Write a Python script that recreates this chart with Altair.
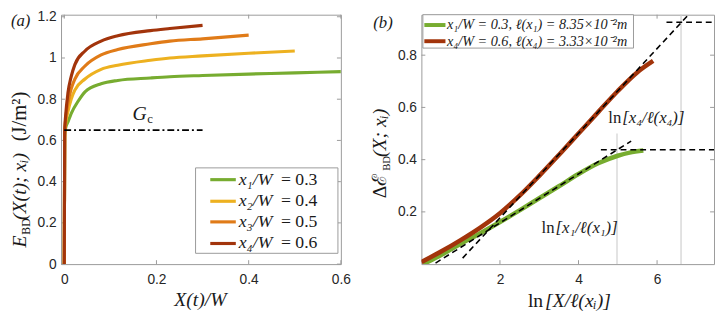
import altair as alt
import pandas as pd

SERIF = "Liberation Serif"
SANS = "Liberation Sans"
INK = "#1a1a1a"
FRAME = "#9a9a9a"

# ---------------- panel (a) data ----------------
a_colors = ["#77AC30", "#EDB120", "#E07B18", "#A2340B"]
a_names = ["x\u2081/W", "x\u2082/W", "x\u2083/W", "x\u2084/W"]
a_vals = ["= 0.3", "= 0.4", "= 0.5", "= 0.6"]

a1_x = [0, 0.001, 0.003, 0.008, 0.016, 0.03, 0.045, 0.08, 0.116, 0.187, 0.229, 0.3, 0.4, 0.5, 0.6]
a1_y = [0, 0.62, 0.66, 0.69, 0.735, 0.79, 0.836, 0.875, 0.891, 0.903, 0.909, 0.915, 0.922, 0.928, 0.934]
a2_x = [0, 0.001, 0.003, 0.008, 0.015, 0.023, 0.045, 0.08, 0.116, 0.187, 0.229, 0.3, 0.4, 0.5]
a2_y = [0, 0.63, 0.68, 0.74, 0.80, 0.844, 0.898, 0.945, 0.965, 0.989, 1.0, 1.01, 1.023, 1.034]
a3_x = [0, 0.001, 0.003, 0.008, 0.015, 0.023, 0.045, 0.08, 0.116, 0.187, 0.229, 0.3, 0.4]
a3_y = [0, 0.64, 0.70, 0.78, 0.85, 0.898, 0.961, 1.015, 1.041, 1.069, 1.082, 1.093, 1.111]
a4_x = [0, 0.001, 0.003, 0.008, 0.015, 0.023, 0.045, 0.08, 0.116, 0.187, 0.229, 0.3]
a4_y = [0, 0.65, 0.72, 0.83, 0.91, 0.968, 1.034, 1.082, 1.108, 1.133, 1.143, 1.158]

gc_x = [0, 0.3]
gc_y = [0.65, 0.65]
gc_label_pos = [0.148, 0.697]

a_xticks = [0, 0.2, 0.4, 0.6]
a_yticks = [0, 0.2, 0.4, 0.6, 0.8, 1.0, 1.2]

# ---------------- panel (b) data ----------------
b_colors = ["#77AC30", "#A2340B"]
b_labels = ["x\u2081/W = 0.3, \u2113(x\u2081) = 8.35\u00d710\u207b\u00b2m",
            "x\u2084/W = 0.6, \u2113(x\u2084) = 3.33\u00d710\u207b\u00b2m"]

b1_x = [0.05, 0.5, 1.0, 1.5, 2.0, 2.5, 3.0, 3.5, 4.0, 4.5, 5.0, 5.3, 5.65]
b1_y = [0.0, 0.035, 0.078, 0.118, 0.161, 0.206, 0.252, 0.298, 0.345, 0.386, 0.415, 0.427, 0.435]
b4_x = [0.0, 0.5, 1.0, 1.5, 2.0, 2.5, 3.0, 3.5, 4.0, 4.5, 5.0, 5.5, 5.9]
b4_y = [0.008, 0.048, 0.092, 0.140, 0.195, 0.262, 0.338, 0.418, 0.50, 0.582, 0.663, 0.735, 0.778]

dash_x1 = [1.05, 6.24, 0.36, 4.57]
dash_y1 = [0.023, 0.926, 0.004, 0.438]
dash_x2 = [6.77, 7.45, 5.34, 7.45]
dash_y2 = [0.95, 0.926, 0.471, 0.438]

vline_x = [4.98, 6.61]
vline_top = [0.5, 0.955]

ann4_pos = [5.09, 0.54]
ann1_pos = [3.39, 0.121]

b_xticks = [2, 4, 6]
b_yticks = [0.2, 0.4, 0.6, 0.8]

# ---------------- sizes ----------------
W1, H = 285, 254
W2 = 298

one = pd.DataFrame({"a": [0]})


def ptext(s, x, y, size, style="normal", angle=0, align="left", baseline="alphabetic", font=SERIF):
    return alt.Chart(one).mark_text(
        text=s, font=font, fontSize=size, fontStyle=style, angle=angle,
        align=align, baseline=baseline, color=INK
    ).encode(x=alt.value(x), y=alt.value(y))


def dtext(s, pos, size, X, Y, style="normal", align="left", dx=0, dy=0):
    df = pd.DataFrame({"x": [pos[0]], "y": [pos[1]], "t": [s]})
    return alt.Chart(df).mark_text(
        font=SERIF, fontSize=size, fontStyle=style, align=align,
        baseline="alphabetic", color=INK, dx=dx, dy=dy
    ).encode(x=X, y=Y, text="t:N")


def curve(xs, ys, color, width, X, Y):
    df = pd.DataFrame({"x": xs, "y": ys})
    return alt.Chart(df).mark_line(color=color, strokeWidth=width, clip=True,
                                   interpolate="monotone").encode(x=X, y=Y)


def ticks(xv, yv, X, Y, w, h):
    dx = pd.DataFrame({"x": xv})
    dy = pd.DataFrame({"y": yv})
    m = dict(color=FRAME, strokeWidth=1)
    return [
        alt.Chart(dx).mark_rule(**m).encode(x=X, y=alt.value(h), y2=alt.value(h - 4)),
        alt.Chart(dx).mark_rule(**m).encode(x=X, y=alt.value(0), y2=alt.value(4)),
        alt.Chart(dy).mark_rule(**m).encode(y=Y, x=alt.value(0), x2=alt.value(4)),
        alt.Chart(dy).mark_rule(**m).encode(y=Y, x=alt.value(w - 4), x2=alt.value(w)),
    ]


def top_guard():
    return alt.Chart(one).mark_rule(opacity=0).encode(x=alt.value(0), y=alt.value(-6), y2=alt.value(0))


# ---------------- panel (a) ----------------
Xa = alt.X("x:Q", scale=alt.Scale(domain=[-0.007, 0.6], nice=False, zero=False),
           axis=alt.Axis(values=a_xticks, format="~g", title=None))
Ya = alt.Y("y:Q", scale=alt.Scale(domain=[0, 1.21], nice=False),
           axis=alt.Axis(values=a_yticks, format="~g", title=None))

a_layers = ticks(a_xticks, a_yticks, Xa, Ya, W1, H)
for xs, ys, c in zip([a1_x, a2_x, a3_x, a4_x], [a1_y, a2_y, a3_y, a4_y], a_colors):
    a_layers.append(curve(xs, ys, c, 3.2, Xa, Ya))

a_layers.append(
    alt.Chart(pd.DataFrame({"x": gc_x, "y": gc_y})).mark_line(
        color="black", strokeWidth=2, strokeDash=[7, 3, 2, 3]).encode(x=Xa, y=Ya)
)
a_layers.append(dtext("G", gc_label_pos, 20, Xa, Ya, style="italic"))
a_layers.append(dtext("c", gc_label_pos, 13, Xa, Ya, dx=15, dy=3))

# legend (a)
a_layers.append(alt.Chart(one).mark_rect(fill="white", stroke=FRAME, strokeWidth=1).encode(
    x=alt.value(137), x2=alt.value(282), y=alt.value(156), y2=alt.value(243)))
leg_y = [168, 190, 211, 233]
for ly, c, nm, v in zip(leg_y, a_colors, a_names, a_vals):
    a_layers.append(alt.Chart(one).mark_rule(color=c, strokeWidth=3.2).encode(
        x=alt.value(152), x2=alt.value(178), y=alt.value(ly)))
    a_layers.append(ptext(nm, 181, ly + 5, 18, style="italic"))
    a_layers.append(ptext(v, 224, ly + 5, 18))

# titles (a)
a_layers.append(ptext("(a)", -51, 12, 17, style="italic"))
a_layers.append(ptext("E", -36, 237, 20, style="italic", angle=270))
a_layers.append(ptext("BD", -32, 224, 12, angle=270))
a_layers.append(ptext("(X(t); x\u1d62)", -36, 209, 20, style="italic", angle=270))
a_layers.append(ptext("(J/m\u00b2)", -36, 129, 21, angle=270))
a_layers.append(ptext("X(t)/W", 142, H + 43, 20, style="italic", align="center"))
a_layers.append(top_guard())

left = alt.layer(*a_layers).properties(width=W1, height=H)

# ---------------- panel (b) ----------------
Xb = alt.X("x:Q", scale=alt.Scale(domain=[0, 7.45], nice=False, zero=False),
           axis=alt.Axis(values=b_xticks, format="~g", title=None))
Yb = alt.Y("y:Q", scale=alt.Scale(domain=[0, 0.955], nice=False, zero=False),
           axis=alt.Axis(values=b_yticks, format="~g", title=None))

b_layers = ticks(b_xticks, b_yticks, Xb, Yb, W2, H)
b_layers.append(
    alt.Chart(pd.DataFrame({"x": vline_x, "y": [0, 0], "y2": vline_top})).mark_rule(
        color="#cfcfcf", strokeWidth=1.2).encode(x=Xb, y=Yb, y2="y2:Q")
)
b_layers.append(curve(b1_x, b1_y, b_colors[0], 4.6, Xb, Yb))
b_layers.append(curve(b4_x, b4_y, b_colors[1], 4.6, Xb, Yb))
b_layers.append(
    alt.Chart(pd.DataFrame({"x": dash_x1, "y": dash_y1, "x2": dash_x2, "y2": dash_y2})).mark_rule(
        color="black", strokeWidth=1.6, strokeDash=[6, 4], clip=True).encode(
        x=Xb, y=Yb, x2="x2:Q", y2="y2:Q")
)
b_layers.append(dtext("ln", ann4_pos, 17, Xb, Yb, align="right"))
b_layers.append(dtext("[x\u2084/\u2113(x\u2084)]", ann4_pos, 17, Xb, Yb, style="italic", dx=1))
b_layers.append(dtext("ln", ann1_pos, 17, Xb, Yb, align="right"))
b_layers.append(dtext("[x\u2081/\u2113(x\u2081)]", ann1_pos, 17, Xb, Yb, style="italic", dx=1))

# legend (b)
b_layers.append(alt.Chart(one).mark_rect(fill="white", stroke=FRAME, strokeWidth=1).encode(
    x=alt.value(1.5), x2=alt.value(216), y=alt.value(0), y2=alt.value(34)))
for ly, c, lab in zip([10.5, 27], b_colors, b_labels):
    b_layers.append(alt.Chart(one).mark_rule(color=c, strokeWidth=4).encode(
        x=alt.value(3), x2=alt.value(24.5), y=alt.value(ly)))
    b_layers.append(ptext(lab, 26, ly + 4.5, 14.5, style="italic"))

# titles (b)
b_layers.append(ptext("(b)", -49, 14, 17, style="italic"))
b_layers.append(ptext("\u0394\u2130", -36, 187, 20, angle=270))
b_layers.append(ptext("BD", -32, 159, 11, angle=270))
b_layers.append(ptext("(X; x\u1d62)", -36, 145, 20, style="italic", angle=270))
b_layers.append(ptext("ln", 124, H + 44, 20, align="right"))
b_layers.append(ptext("[X/\u2113(x\u1d62)]", 126, H + 44, 20, style="italic"))
b_layers.append(top_guard())

right = alt.layer(*b_layers).properties(width=W2, height=H)

chart = alt.hconcat(left, right, spacing=18).properties(
    padding={"left": 0, "top": -3, "right": 0, "bottom": 0}
).configure_view(stroke=FRAME, strokeWidth=1).configure_axis(
    domain=False, ticks=False, tickSize=0, grid=False, labelFont=SANS, labelFontSize=14,
    labelColor="#262626", labelFlush=False
).configure_axisX(labelPadding=9).configure_axisY(labelPadding=5)

chart.save("out.html", embed_options={"renderer": "svg", "actions": False})
